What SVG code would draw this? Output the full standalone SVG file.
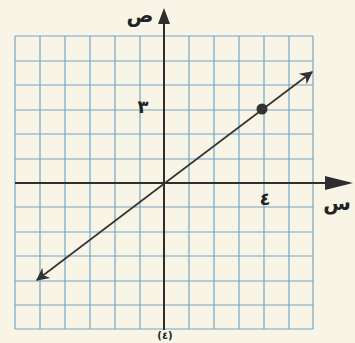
<svg xmlns="http://www.w3.org/2000/svg" width="355" height="343" viewBox="0 0 355 343">
<style>
.grid line{stroke:#74a6c6;stroke-width:1.2}
.ax{stroke:#2e2e2e;stroke-width:2}
.ln{stroke:#333;stroke-width:1.6}
.lbl{font-family:"DejaVu Sans","Noto Sans",sans-serif;fill:#222;font-weight:bold}
</style>
<defs>
<marker id="ah" viewBox="0 0 10 10" refX="9" refY="5" markerWidth="16" markerHeight="13" markerUnits="userSpaceOnUse" orient="auto">
<path d="M0,0 L10,5 L0,10 L3,5 Z" fill="#333"/>
</marker>
</defs>
<rect width="355" height="343" fill="#f8f4e6"/>
<g class="grid" id="grid">
<line x1="15" y1="36" x2="15" y2="329"/>
<line x1="40" y1="36" x2="40" y2="329"/>
<line x1="65" y1="36" x2="65" y2="329"/>
<line x1="90" y1="36" x2="90" y2="329"/>
<line x1="115" y1="36" x2="115" y2="329"/>
<line x1="140" y1="36" x2="140" y2="329"/>
<line x1="189" y1="36" x2="189" y2="329"/>
<line x1="214" y1="36" x2="214" y2="329"/>
<line x1="239" y1="36" x2="239" y2="329"/>
<line x1="264" y1="36" x2="264" y2="329"/>
<line x1="289" y1="36" x2="289" y2="329"/>
<line x1="313" y1="36" x2="313" y2="329"/>
<line x1="15" y1="36" x2="313" y2="36"/>
<line x1="15" y1="61" x2="313" y2="61"/>
<line x1="15" y1="85" x2="313" y2="85"/>
<line x1="15" y1="110" x2="313" y2="110"/>
<line x1="15" y1="134" x2="313" y2="134"/>
<line x1="15" y1="159" x2="313" y2="159"/>
<line x1="15" y1="207" x2="313" y2="207"/>
<line x1="15" y1="232" x2="313" y2="232"/>
<line x1="15" y1="256" x2="313" y2="256"/>
<line x1="15" y1="281" x2="313" y2="281"/>
<line x1="15" y1="305" x2="313" y2="305"/>
<line x1="15" y1="329" x2="313" y2="329"/>
</g>
<g id="connectors">
<line class="ax" x1="164" y1="330" x2="164" y2="22"/>
<polygon points="164,8 158,24 170,24" fill="#2e2e2e"/>
<line class="ax" x1="15" y1="183" x2="328" y2="183"/>
<polygon points="353,183 325,176 325,190" fill="#2e2e2e"/>
<line class="ln" x1="165" y1="183" x2="312" y2="72" marker-end="url(#ah)"/>
<line class="ln" x1="165" y1="183" x2="37" y2="280" marker-end="url(#ah)"/>
</g>
<g id="point"><circle cx="262" cy="109" r="5.5" fill="#333"/></g>
<g id="labels">
<text class="lbl" x="140" y="22" font-size="20" text-anchor="middle">ص</text>
<text class="lbl" x="143" y="113" font-size="18" text-anchor="middle">٣</text>
<text class="lbl" x="265" y="205" font-size="18" text-anchor="middle">٤</text>
<text class="lbl" x="337" y="210" font-size="20" text-anchor="middle">س</text>
<text class="lbl" x="165" y="339" font-size="10" text-anchor="middle" font-weight="normal">(٤)</text>
</g>
</svg>
